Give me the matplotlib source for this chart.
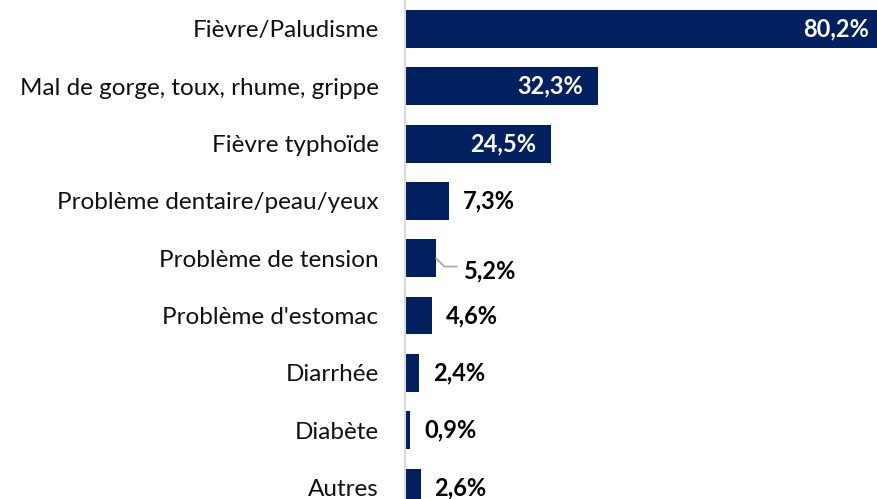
import matplotlib
matplotlib.use("Agg")
import matplotlib.pyplot as plt

categories = ["Fièvre/Paludisme", "Mal de gorge, toux, rhume, grippe", "Fièvre typhoïde",
              "Problème dentaire/peau/yeux", "Problème de tension", "Problème d'estomac",
              "Diarrhée", "Diabète", "Autres"]
values = [80.2, 32.3, 24.5, 7.3, 5.2, 4.6, 2.4, 0.9, 2.6]
labels = ["80,2%", "32,3%", "24,5%", "7,3%", "5,2%", "4,6%", "2,4%", "0,9%", "2,6%"]

W, H = 877, 499
fig = plt.figure(figsize=(W / 100, H / 100), dpi=100)
ax = fig.add_axes([405 / W, 0, 1 - 405 / W, 1])

bar_color = "#002060"
y = list(range(len(categories)))
ax.barh(y, values, height=0.66, color=bar_color)

ax.set_xlim(0, 472 / 5.97)
ax.set_ylim(8.202, -0.506)

for s in ["top", "right", "bottom"]:
    ax.spines[s].set_visible(False)
ax.spines["left"].set_color("#d9d9d9")
ax.spines["left"].set_linewidth(1.5)
ax.set_xticks([])
ax.set_yticks(y)
ax.set_yticklabels(categories, fontsize=17.5, family="Lato", color="#111111")
ax.tick_params(axis="y", length=0, pad=19)

fs = 17
for i, (v, lab) in enumerate(zip(values, labels)):
    if v > 20:
        ax.annotate(lab, (v, i), xytext=(-11, 0), textcoords="offset points",
                    ha="right", va="center", color="white", fontsize=fs,
                    fontweight="bold", family="Lato", annotation_clip=False)
    elif lab == "5,2%":
        ax.annotate(lab, (v, i), xytext=(20, -9), textcoords="offset points",
                    ha="left", va="center", color="black", fontsize=fs,
                    fontweight="bold", family="Lato", annotation_clip=False)
        ax.annotate("", (v, i), xytext=(15, -6), textcoords="offset points",
                    arrowprops=dict(arrowstyle="-", color="#a6a6a6", lw=1.2,
                                    connectionstyle="angle,angleA=0,angleB=-45,rad=0",
                                    shrinkA=0, shrinkB=0))
    else:
        ax.annotate(lab, (v, i), xytext=(10, 0), textcoords="offset points",
                    ha="left", va="center", color="black", fontsize=fs,
                    fontweight="bold", family="Lato", annotation_clip=False)

fig.savefig("out.png", dpi=100)
